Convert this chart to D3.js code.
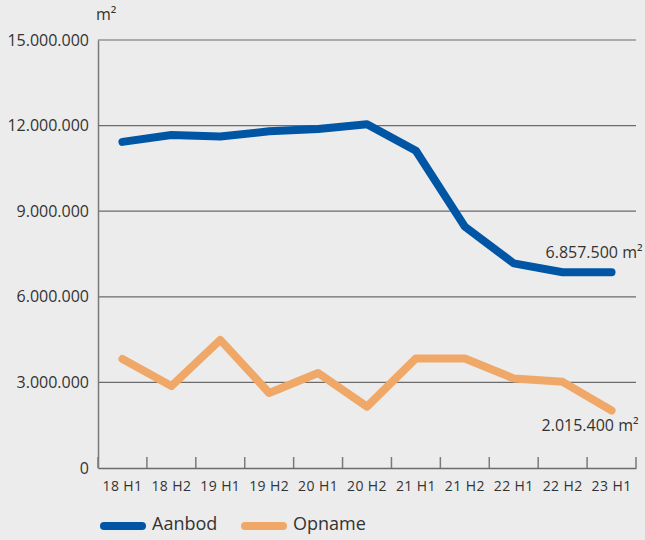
<!DOCTYPE html>
<html><head><meta charset="utf-8">
<script src="https://cdn.jsdelivr.net/npm/d3@7"></script>
<style>
html,body{margin:0;padding:0;background:#ececec;}
svg{display:block;font-family:"Open Sans","Noto Sans",sans-serif;}
</style></head>
<body><svg id="c" width="645" height="540"></svg>
<script>
const categories = ["18 H1","18 H2","19 H1","19 H2","20 H1","20 H2","21 H1","21 H2","22 H1","22 H2","23 H1"];
const aanbod = [11430000,11670000,11620000,11800000,11880000,12050000,11120000,8460000,7170000,6860000,6857500];
const opname = [3820000,2870000,4490000,2630000,3330000,2150000,3840000,3840000,3140000,3020000,2015400];
const yTicks = [0,3000000,6000000,9000000,12000000,15000000];
const seriesNames = ["Aanbod","Opname"];
const colors = ["#0055a5","#f0a868"];
const FF = "'Open Sans','Noto Sans',sans-serif";

const svg = d3.select("#c");
const m = {l:98, r:636, t:40, b:468};
const x = d3.scaleBand().domain(categories).range([m.l, m.r]);
const y = d3.scaleLinear().domain([0,15000000]).range([m.b, m.t]);
const fmt = v => v===0 ? "0" : d3.format(",")(v).replace(/,/g,".");

svg.append("g").selectAll("line").data(yTicks.filter(d=>d>0)).join("line")
  .attr("x1",m.l).attr("x2",m.r).attr("y1",d=>y(d)).attr("y2",d=>y(d))
  .attr("stroke","#6b6b6b").attr("stroke-width",1.2);

const ya = svg.append("g").attr("transform",`translate(${m.l},0)`)
  .call(d3.axisLeft(y).tickValues(yTicks).tickFormat(fmt).tickSize(0).tickPadding(9));
ya.select(".domain").attr("stroke","#7a7a7a").attr("stroke-width",1.5);
ya.selectAll("text").attr("font-size",16).attr("fill","#333").attr("font-family",FF);

const xa = svg.append("g").attr("transform",`translate(0,${m.b})`)
  .call(d3.axisBottom(x).tickSize(0).tickPadding(13));
xa.select(".domain").attr("stroke","#6b6b6b").attr("stroke-width",1.5);
xa.selectAll("text").attr("font-size",14).attr("fill","#333").attr("font-family",FF)
  .attr("letter-spacing","0.4px");
const edges = categories.map(c=>x(c)).concat([m.r]);
svg.append("g").selectAll("line").data(edges).join("line")
  .attr("x1",d=>d).attr("x2",d=>d).attr("y1",m.b).attr("y2",m.b-11)
  .attr("stroke","#7a7a7a").attr("stroke-width",1.5);

svg.append("text").attr("x",96).attr("y",20).attr("font-size",16).attr("fill","#333").text("m²");

const line = d3.line().x((d,i)=>x(categories[i])+x.bandwidth()/2).y(d=>y(d));
[aanbod, opname].forEach((s,k)=>{
  svg.append("path").datum(s).attr("d",line).attr("fill","none")
    .attr("stroke",colors[k]).attr("stroke-width",8)
    .attr("stroke-linecap","round").attr("stroke-linejoin","round");
});

const last = categories.length-1;
const lx = x(categories[last])+x.bandwidth()/2;
svg.append("text").attr("x",lx+31).attr("y",y(aanbod[last])-14).attr("text-anchor","end")
  .attr("font-size",16).attr("fill","#333").text(fmt(aanbod[last])+" m²");
svg.append("text").attr("x",lx+27).attr("y",y(opname[last])+21).attr("text-anchor","end")
  .attr("font-size",16).attr("fill","#333").text(fmt(opname[last])+" m²");

const lg = svg.append("g");
const lpos = [100, 241];
seriesNames.forEach((n,k)=>{
  lg.append("line").attr("x1",lpos[k]+4).attr("x2",lpos[k]+42).attr("y1",526).attr("y2",526)
    .attr("stroke",colors[k]).attr("stroke-width",8).attr("stroke-linecap","round");
  lg.append("text").attr("x",lpos[k]+52).attr("y",530).attr("font-size",18).attr("fill","#333").text(n);
});
</script></body></html>
